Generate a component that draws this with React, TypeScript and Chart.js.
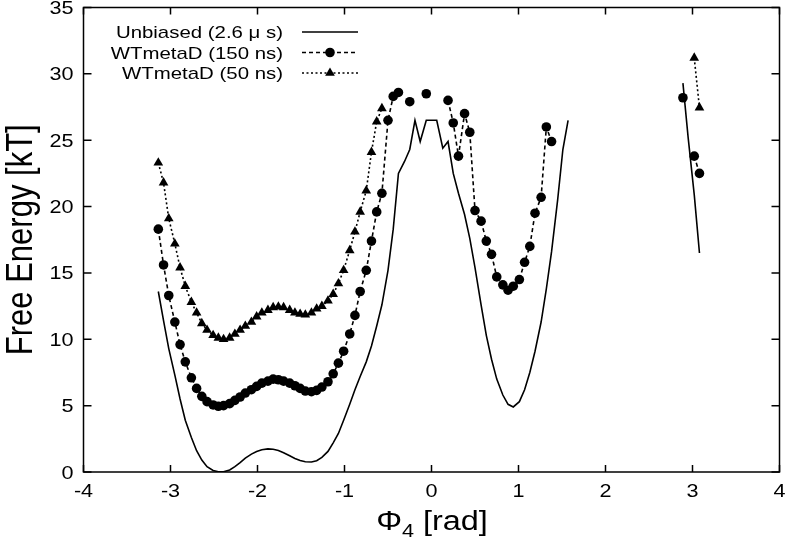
import { useEffect, useRef } from "react"
import { Chart, registerables } from "chart.js"

// Chart.js 등록
Chart.register(...registerables)

// Φ4 격자 (rad), 2.20은 선을 끊기 위한 빈 칸
const phi = [
  -3.14, -3.08, -3.02, -2.95, -2.89, -2.83, -2.76, -2.7, -2.64, -2.58, -2.51, -2.45,
  -2.39, -2.32, -2.26, -2.2, -2.14, -2.07, -2.01, -1.95, -1.88, -1.82, -1.76, -1.7,
  -1.63, -1.57, -1.51, -1.45, -1.38, -1.32, -1.26, -1.19, -1.13, -1.07, -1.01, -0.94,
  -0.88, -0.82, -0.75, -0.69, -0.63, -0.57, -0.5, -0.44, -0.38, -0.31, -0.25, -0.19,
  -0.13, -0.06, 0.0, 0.06, 0.13, 0.19, 0.25, 0.31, 0.38, 0.44, 0.5, 0.57,
  0.63, 0.69, 0.75, 0.82, 0.88, 0.94, 1.01, 1.07, 1.13, 1.19, 1.26, 1.32,
  1.38, 1.45, 1.51, 1.57,
  2.2,
  2.89, 2.95, 3.02, 3.08,
]

// Unbiased (2.6 μs)
const unbiased = [
  13.6, 11.4, 9.3, 7.3, 5.5, 3.9, 2.6, 1.6, 0.9, 0.4, 0.12, 0.02,
  0.02, 0.15, 0.4, 0.7, 1.05, 1.35, 1.55, 1.68, 1.74, 1.72, 1.62, 1.45,
  1.22, 1.02, 0.86, 0.77, 0.75, 0.85, 1.1, 1.55, 2.2, 2.9, 3.9, 5.1,
  6.2, 7.2, 8.3, 9.5, 11.0, 12.6, 15.2, 18.3, 22.5, 23.4, 24.3, 26.5,
  24.9, 26.5, 26.5, 26.5, 24.4, 24.9, 22.5, 21.0, 19.4, 17.6, 15.4, 12.6,
  10.3, 8.5, 7.0, 5.8, 5.1, 4.9, 5.3, 6.2, 7.5, 9.1, 11.3, 13.8,
  16.6, 20.5, 24.3, 26.5,
  null,
  29.3, 25.2, 20.9, 16.5,
]

// WTmetaD (150 ns)
const wt150 = [
  18.3, 15.6, 13.3, 11.3, 9.6, 8.3, 7.1, 6.3, 5.7, 5.3, 5.05, 4.95,
  5.0, 5.15, 5.4, 5.65, 5.95, 6.2, 6.45, 6.7, 6.85, 7.0, 6.95, 6.85,
  6.7, 6.5, 6.3, 6.1, 6.05, 6.15, 6.4, 6.8, 7.4, 8.2, 9.1, 10.4,
  11.8, 13.6, 15.2, 17.4, 19.6, 21.0, 26.5, 28.3, 28.6, null, 27.9, null,
  null, 28.5, null, null, null, 28.0, 26.3, 23.8, 27.0, 25.6, 19.7, 18.9,
  17.4, 16.4, 14.7, 14.1, 13.7, 14.0, 14.5, 15.8, 17.0, 19.5, 20.7, 26.0,
  24.9, null, null, null,
  null,
  28.2, null, 23.8, 22.5,
]

// WTmetaD (50 ns)
const wt50 = [
  23.3, 21.8, 19.1, 17.2, 15.4, 14.0, 12.8, 12.0, 11.2, 10.7, 10.3, 10.1,
  10.0, 10.1, 10.4, 10.7, 11.0, 11.3, 11.7, 12.0, 12.2, 12.4, 12.45, 12.4,
  12.2, 12.0, 11.9, 11.85, 12.0, 12.3, 12.5, 12.9, 13.4, 14.2, 15.2, 16.7,
  18.1, 19.6, 21.2, 24.1, 26.4, 27.4, null, null, null, null, null, null,
  null, null, null, null, null, null, null, null, null, null, null, null,
  null, null, null, null, null, null, null, null, null, null, null, null,
  null, null, null, null,
  null,
  null, null, 31.2, 27.45,
]

const xTicks = [-4, -3, -2, -1, 0, 1, 2, 3, 4]
const yTicks = [0, 5, 10, 15, 20, 25, 30, 35]
const seriesLabels = ["Unbiased (2.6 \u03bc s)", "WTmetaD (150 ns)", "WTmetaD (50 ns)"]

const FONT = '"Liberation Sans", Arial, sans-serif'
// 원본 그림은 가로로 늘어나 있어서 글자도 가로로 늘림
const SX = 1.2
const CIRCLE_R = 4.8
const TRIANGLE_R = 5.6

function wideText(ctx: CanvasRenderingContext2D, text: string, x: number, y: number, align: CanvasTextAlign) {
  ctx.save()
  ctx.translate(x, y)
  ctx.scale(SX, 1)
  ctx.textAlign = align
  ctx.textBaseline = "alphabetic"
  ctx.fillText(text, 0, 0)
  ctx.restore()
}

function drawMarker(ctx: CanvasRenderingContext2D, style: string, x: number, y: number) {
  ctx.beginPath()
  if (style === "circle") {
    ctx.arc(x, y, CIRCLE_R, 0, Math.PI * 2)
  } else {
    const r = TRIANGLE_R
    ctx.moveTo(x, y - r)
    ctx.lineTo(x + r * 0.866, y + r * 0.5)
    ctx.lineTo(x - r * 0.866, y + r * 0.5)
    ctx.closePath()
  }
  ctx.fill()
}

const lineStyles = [
  { dash: [] as number[], marker: "" },
  { dash: [4, 3], marker: "circle" },
  { dash: [2, 2.5], marker: "triangle" },
]

// gnuplot 스타일 테두리, 눈금, 글자, 범례
const gnuplotFrame = {
  id: "gnuplotFrame",
  afterDraw(chart: Chart) {
    const { ctx, chartArea: a } = chart
    const xs = chart.scales.x
    const ys = chart.scales.y
    ctx.save()
    ctx.strokeStyle = "#000"
    ctx.fillStyle = "#000"
    ctx.lineWidth = 1.5
    ctx.setLineDash([])
    ctx.strokeRect(a.left, a.top, a.right - a.left, a.bottom - a.top)

    ctx.beginPath()
    xTicks.forEach((v) => {
      const px = xs.getPixelForValue(v)
      ctx.moveTo(px, a.bottom)
      ctx.lineTo(px, a.bottom - 7)
      ctx.moveTo(px, a.top)
      ctx.lineTo(px, a.top + 7)
    })
    yTicks.forEach((v) => {
      const py = ys.getPixelForValue(v)
      ctx.moveTo(a.left, py)
      ctx.lineTo(a.left + 8, py)
      ctx.moveTo(a.right, py)
      ctx.lineTo(a.right - 8, py)
    })
    ctx.stroke()

    // 눈금 글자
    ctx.font = `18px ${FONT}`
    xTicks.forEach((v) => wideText(ctx, String(v), xs.getPixelForValue(v), a.bottom + 25, "center"))
    yTicks.forEach((v) => wideText(ctx, String(v), a.left - 10, ys.getPixelForValue(v) + 6.5, "right"))

    // y축 제목
    ctx.save()
    ctx.translate(22, (a.top + a.bottom) / 2)
    ctx.rotate(-Math.PI / 2)
    ctx.scale(1, SX)
    ctx.font = `31px ${FONT}`
    ctx.textAlign = "center"
    ctx.textBaseline = "middle"
    ctx.fillText("Free Energy [kT]", 0, 0)
    ctx.restore()

    // x축 제목 (아래첨자 4)
    ctx.save()
    ctx.translate(432, 530)
    ctx.scale(SX, 1)
    ctx.textAlign = "left"
    ctx.font = `27px ${FONT}`
    const wPhi = ctx.measureText("\u03a6").width
    const wRest = ctx.measureText(" [rad]").width
    ctx.font = `18px ${FONT}`
    const wSub = ctx.measureText("4").width
    let cx = -(wPhi + wSub + wRest) / 2
    ctx.font = `27px ${FONT}`
    ctx.fillText("\u03a6", cx, 0)
    cx += wPhi
    ctx.font = `18px ${FONT}`
    ctx.fillText("4", cx, 7)
    cx += wSub
    ctx.font = `27px ${FONT}`
    ctx.fillText(" [rad]", cx, 0)
    ctx.restore()

    // 범례
    seriesLabels.forEach((label, i) => {
      const y = 32 + i * 20.5
      ctx.font = `17px ${FONT}`
      wideText(ctx, label, 283, y + 6, "right")
      ctx.lineWidth = 1.6
      ctx.setLineDash(lineStyles[i].dash)
      ctx.beginPath()
      ctx.moveTo(302, y)
      ctx.lineTo(358, y)
      ctx.stroke()
      ctx.setLineDash([])
      if (lineStyles[i].marker) drawMarker(ctx, lineStyles[i].marker, 330, y)
    })
    ctx.restore()
  },
}

export default function App() {
  const chartRef = useRef<HTMLCanvasElement>(null)
  const chartInstance = useRef<Chart | null>(null)

  useEffect(() => {
    if (!chartRef.current) return
    document.body.style.margin = "0"

    if (chartInstance.current) {
      chartInstance.current.destroy()
    }

    const toPoints = (ys: (number | null)[]) => phi.map((x, i) => ({ x, y: ys[i] }))

    const ctx = chartRef.current.getContext("2d")
    if (ctx) {
      chartInstance.current = new Chart(ctx, {
        type: "line",
        data: {
          datasets: [
            {
              label: seriesLabels[0],
              data: toPoints(unbiased),
              borderColor: "#000",
              borderWidth: 1.6,
              pointRadius: 0,
              tension: 0,
            },
            {
              label: seriesLabels[1],
              data: toPoints(wt150),
              borderColor: "#000",
              borderWidth: 1.6,
              borderDash: lineStyles[1].dash,
              pointStyle: "circle",
              pointRadius: CIRCLE_R,
              pointBackgroundColor: "#000",
              pointBorderWidth: 0,
              tension: 0,
            },
            {
              label: seriesLabels[2],
              data: toPoints(wt50),
              borderColor: "#000",
              borderWidth: 1.6,
              borderDash: lineStyles[2].dash,
              pointStyle: "triangle",
              pointRadius: TRIANGLE_R,
              pointBackgroundColor: "#000",
              pointBorderWidth: 0,
              tension: 0,
            },
          ],
        },
        options: {
          animation: false,
          responsive: true,
          maintainAspectRatio: false,
          spanGaps: false,
          layout: { padding: { top: 7.5, right: 9.5, left: 0, bottom: 0 } },
          plugins: {
            legend: { display: false },
            tooltip: { enabled: false },
          },
          scales: {
            x: {
              type: "linear",
              min: -4,
              max: 4,
              ticks: { display: false, stepSize: 1 },
              grid: { display: false },
              border: { display: false },
              afterFit: (s: any) => {
                s.height = 68
              },
            },
            y: {
              type: "linear",
              min: 0,
              max: 35,
              ticks: { display: false, stepSize: 5 },
              grid: { display: false },
              border: { display: false },
              afterFit: (s: any) => {
                s.width = 83.5
              },
            },
          },
        },
        plugins: [gnuplotFrame],
      })
    }

    return () => {
      if (chartInstance.current) {
        chartInstance.current.destroy()
        chartInstance.current = null
      }
    }
  }, [])

  return (
    <div style={{ width: "789px", height: "540px", background: "#fff" }}>
      <canvas ref={chartRef} />
    </div>
  )
}
